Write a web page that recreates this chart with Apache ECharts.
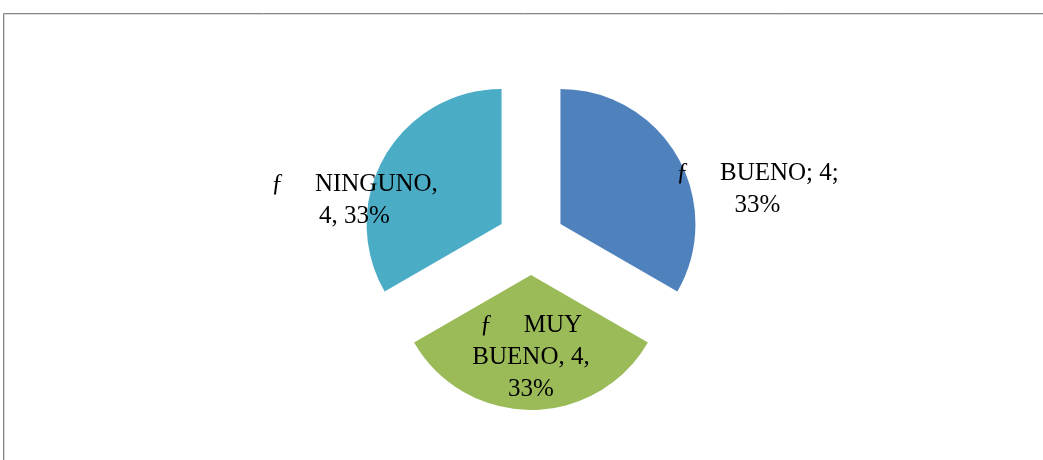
<!DOCTYPE html>
<html>
<head>
<meta charset="utf-8">
<script src="https://cdn.jsdelivr.net/npm/echarts@6/dist/echarts.min.js"></script>
<style>
  html, body { margin: 0; padding: 0; background: #fff; }
  #chart { width: 1043px; height: 460px; }
</style>
</head>
<body>
<div id="chart"></div>
<script>
const categories = ['BUENO', 'MUY BUENO', 'NINGUNO'];
const values = [4, 4, 4];
const colors = ['#4F81BD', '#9BBB59', '#4BACC6'];
const labelTexts = [
  'ƒ     BUENO; 4;\n33%',
  'ƒ     MUY\nBUENO, 4,\n33%',
  'ƒ     NINGUNO,\n4, 33%'
];
// shift of each label from its default inside spot
const labelShifts = [[136, 1], [0, 12], [-86, 12]];

const chart = echarts.init(document.getElementById('chart'), null, { renderer: 'canvas' });

chart.setOption({
  animation: false,
  backgroundColor: '#ffffff',
  graphic: [
    { type: 'rect', shape: { x: 3.5, y: 13.5, width: 1100, height: 500 },
      style: { fill: 'none', stroke: '#868686', lineWidth: 1 }, silent: true },
    { type: 'rect', shape: { x: 4.5, y: 14.5, width: 1100, height: 500 },
      style: { fill: 'none', stroke: '#d9d9d9', lineWidth: 1 }, silent: true }
  ],
  series: [{
    type: 'pie',
    center: [531, 241],
    radius: 135,
    startAngle: 90,
    clockwise: true,
    selectedMode: 'multiple',
    selectedOffset: 34,
    emphasis: { disabled: true },
    labelLine: { show: false },
    label: {
      show: true,
      position: 'inside',
      fontFamily: 'Liberation Serif',
      fontSize: 25,
      lineHeight: 32,
      color: '#000',
      align: 'center'
    },
    labelLayout: function (params) {
      const s = labelShifts[params.dataIndex];
      return { dx: s[0], dy: s[1] };
    },
    data: categories.map((name, i) => ({
      name: name,
      value: values[i],
      selected: true,
      itemStyle: { color: colors[i] },
      label: { formatter: labelTexts[i] }
    }))
  }]
});
</script>
</body>
</html>
